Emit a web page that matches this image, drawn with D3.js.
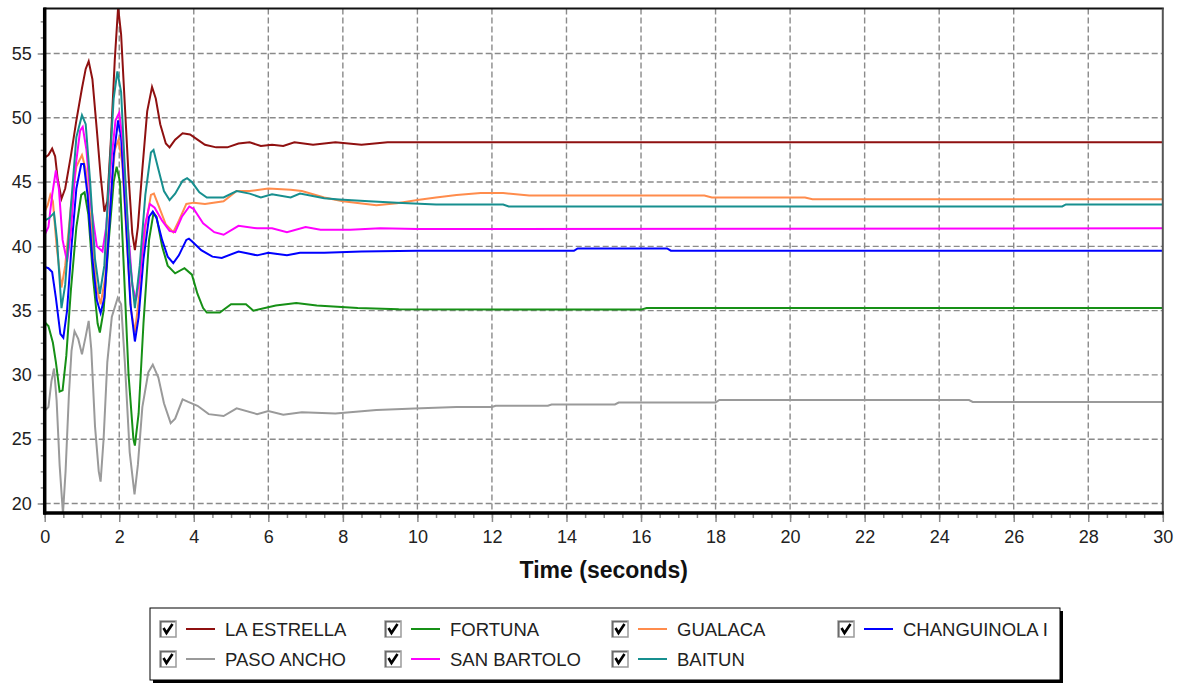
<!DOCTYPE html>
<html><head><meta charset="utf-8">
<script src="https://cdn.jsdelivr.net/npm/d3@7"></script>
<style>body{margin:0;background:#fff;} svg{display:block;font-family:"Liberation Sans",Arial,sans-serif;}</style>
</head><body><svg id="c" width="1180" height="683"></svg>
<script>
// ---- data ----
const xTicks = [0,2,4,6,8,10,12,14,16,18,20,22,24,26,28,30];
const yTicks = [20,25,30,35,40,45,50,55];
const xLabel = "Time (seconds)";
const seriesNames = ["LA ESTRELLA","FORTUNA","GUALACA","CHANGUINOLA I","PASO ANCHO","SAN BARTOLO","BAITUN"];

const laEstrella = [[0,46.9],[0.1,47.1],[0.2,47.6],[0.28,47.0],[0.35,45.2],[0.45,43.7],[0.55,44.5],[0.7,47.0],[0.85,49.8],[1.0,52.3],[1.1,53.8],[1.18,54.4],[1.28,53.0],[1.4,49.0],[1.5,45.5],[1.6,42.7],[1.68,43.5],[1.78,48.5],[1.88,54.5],[1.97,58.6],[2.05,56.5],[2.15,51.0],[2.25,45.5],[2.35,41.0],[2.42,39.7],[2.5,41.5],[2.62,46.0],[2.75,50.5],[2.88,52.4],[2.98,51.5],[3.1,49.5],[3.25,48.0],[3.35,47.7],[3.5,48.3],[3.7,48.8],[3.9,48.7],[4.1,48.3],[4.3,47.9],[4.6,47.7],[4.9,47.7],[5.2,48.0],[5.5,48.1],[5.8,47.8],[6.1,47.9],[6.4,47.8],[6.7,48.1],[7.2,47.9],[7.8,48.1],[8.5,47.9],[9.2,48.1],[10,48.1],[30,48.1]];
const fortuna = [[0,34.1],[0.1,33.8],[0.22,32.5],[0.3,31.0],[0.4,28.7],[0.48,28.8],[0.58,31.5],[0.7,36.5],[0.85,41.5],[0.98,44.0],[1.07,44.2],[1.17,42.5],[1.3,37.5],[1.42,34.0],[1.48,33.3],[1.58,35.0],[1.72,40.5],[1.85,45.0],[1.93,46.2],[2.02,45.0],[2.12,38.5],[2.25,30.0],[2.38,25.0],[2.42,24.5],[2.52,27.0],[2.65,34.0],[2.8,40.5],[2.92,42.6],[3.0,42.3],[3.15,40.0],[3.3,38.5],[3.5,37.9],[3.75,38.3],[3.95,37.8],[4.1,36.3],[4.25,35.2],[4.35,34.85],[4.7,34.85],[5.0,35.5],[5.4,35.5],[5.6,35.0],[6.2,35.4],[6.75,35.6],[7.3,35.4],[8.4,35.2],[9.5,35.1],[16.0,35.08],[16.15,35.2],[30,35.2]];
const gualaca = [[0,42.7],[0.08,43.2],[0.15,44.0],[0.22,43.5],[0.32,40.0],[0.45,36.8],[0.55,38.5],[0.7,43.0],[0.85,46.2],[1.0,47.1],[1.1,46.0],[1.25,41.5],[1.38,37.0],[1.5,35.5],[1.62,37.5],[1.75,43.0],[1.88,47.5],[1.98,48.3],[2.08,46.5],[2.2,40.5],[2.32,35.0],[2.42,33.3],[2.55,36.5],[2.7,41.5],[2.85,44.0],[2.93,44.1],[3.05,43.2],[3.25,41.7],[3.45,41.1],[3.6,42.0],[3.8,43.3],[4.0,43.4],[4.3,43.3],[4.8,43.5],[5.15,44.3],[5.5,44.3],[6.0,44.5],[6.6,44.4],[6.9,44.3],[7.5,43.8],[8.0,43.5],[8.9,43.2],[9.45,43.35],[10.0,43.6],[10.5,43.8],[11.05,44.0],[11.7,44.15],[12.3,44.15],[13.0,43.95],[17.7,43.95],[17.9,43.8],[20.4,43.8],[20.6,43.67],[30,43.67]];
const changuinola = [[0,38.4],[0.1,38.3],[0.2,38.0],[0.3,36.0],[0.42,33.2],[0.5,32.9],[0.6,35.0],[0.72,40.0],[0.85,44.5],[0.98,46.4],[1.05,46.4],[1.15,44.0],[1.28,39.0],[1.4,35.8],[1.5,34.8],[1.6,36.0],[1.72,41.0],[1.85,47.0],[1.97,49.8],[2.05,48.5],[2.18,42.0],[2.3,35.5],[2.42,32.6],[2.52,34.5],[2.65,39.0],[2.8,42.3],[2.9,42.7],[3.0,42.2],[3.15,40.5],[3.3,39.2],[3.45,38.7],[3.6,39.3],[3.8,40.5],[3.87,40.6],[3.95,40.4],[4.2,39.7],[4.5,39.2],[4.75,39.1],[5.2,39.6],[5.7,39.3],[6.0,39.5],[6.5,39.3],[6.85,39.5],[7.5,39.5],[8.5,39.6],[10,39.65],[14.2,39.65],[14.3,39.84],[16.7,39.84],[16.8,39.66],[30,39.66]];
const pasoAncho = [[0,27.2],[0.1,27.5],[0.18,29.5],[0.25,30.5],[0.32,28.0],[0.4,23.0],[0.49,19.2],[0.56,22.5],[0.65,28.5],[0.72,31.9],[0.8,33.4],[0.9,32.8],[1.0,31.6],[1.1,33.0],[1.18,34.2],[1.25,32.0],[1.35,26.0],[1.45,22.5],[1.5,21.7],[1.58,25.0],[1.68,31.0],[1.8,34.5],[1.96,36.0],[2.05,35.5],[2.15,31.0],[2.28,24.0],[2.41,20.7],[2.5,23.0],[2.62,27.5],[2.78,30.2],[2.9,30.8],[3.05,29.8],[3.2,27.8],[3.38,26.25],[3.5,26.6],[3.7,28.1],[3.85,27.9],[4.1,27.6],[4.4,26.95],[4.8,26.8],[5.15,27.4],[5.7,26.95],[6.0,27.2],[6.4,26.9],[6.9,27.1],[7.8,27.0],[8.9,27.27],[10.1,27.4],[11.05,27.5],[12.0,27.5],[12.1,27.6],[13.5,27.6],[13.6,27.7],[15.3,27.7],[15.4,27.85],[18.0,27.85],[18.1,28.05],[24.8,28.05],[24.9,27.9],[30,27.9]];
const sanBartolo = [[0,40.9],[0.1,41.5],[0.2,44.0],[0.3,45.9],[0.38,44.5],[0.48,40.5],[0.6,38.8],[0.7,41.0],[0.82,46.0],[0.95,49.0],[1.02,49.3],[1.12,47.5],[1.25,43.0],[1.4,40.0],[1.55,39.6],[1.65,41.5],[1.78,46.5],[1.9,49.8],[2.0,50.4],[2.1,48.0],[2.22,42.0],[2.35,37.0],[2.45,35.8],[2.55,37.5],[2.68,41.5],[2.82,43.3],[2.95,43.0],[3.15,42.0],[3.35,41.2],[3.5,41.1],[3.68,42.3],[3.88,43.1],[4.0,42.9],[4.25,41.8],[4.55,41.1],[4.8,40.9],[5.2,41.6],[5.7,41.4],[6.1,41.4],[6.5,41.1],[7.0,41.5],[7.4,41.3],[8.2,41.3],[9.0,41.4],[10,41.35],[30,41.4]];
const baitun = [[0,42.0],[0.12,42.2],[0.25,42.6],[0.33,40.5],[0.45,35.2],[0.55,37.0],[0.7,43.0],[0.85,48.5],[1.0,50.2],[1.1,49.5],[1.22,45.0],[1.35,39.0],[1.48,36.3],[1.6,38.5],[1.72,45.0],[1.85,51.5],[1.95,53.6],[2.05,52.0],[2.15,46.0],[2.28,39.0],[2.42,35.2],[2.55,38.5],[2.7,44.0],[2.85,47.3],[2.92,47.5],[3.05,46.0],[3.2,44.3],[3.35,43.6],[3.5,44.1],[3.7,45.1],[3.82,45.3],[3.95,45.0],[4.15,44.2],[4.35,43.8],[4.8,43.8],[5.15,44.3],[5.5,44.1],[5.8,43.8],[6.1,44.05],[6.6,43.8],[6.85,44.1],[7.5,43.75],[7.9,43.65],[8.7,43.5],[9.45,43.4],[10.5,43.25],[12.3,43.25],[12.45,43.1],[27.3,43.1],[27.4,43.26],[30,43.26]];

const seriesData = [laEstrella, fortuna, gualaca, changuinola, pasoAncho, sanBartolo, baitun];
const seriesColors = ["#8f1010","#169016","#ff8c4c","#0000ff","#9a9a9a","#ff00ff","#178f8f"];

// ---- chart ----
const svg = d3.select('#c');
const X0 = 44.7, X1 = 1162.8, YT = 8.5, YB = 513;
const x = d3.scaleLinear().domain([0,30]).range([X0,X1]);
const y = d3.scaleLinear().domain([19.26,58.5]).range([YB,YT]);

svg.append('defs').append('clipPath').attr('id','clip')
  .append('rect').attr('x',X0).attr('y',YT).attr('width',X1-X0).attr('height',YB-YT);

// grid
const grid = svg.append('g').attr('stroke','#8a8a8a').attr('stroke-width',1.4).attr('stroke-dasharray','6,3');
grid.selectAll('line.v').data(xTicks.filter(d=>d>0&&d<30)).join('line')
  .attr('x1',d=>x(d)).attr('x2',d=>x(d)).attr('y1',YT).attr('y2',YB);
grid.selectAll('line.h').data(yTicks).join('line')
  .attr('y1',d=>y(d)).attr('y2',d=>y(d)).attr('x1',X0).attr('x2',X1);

// series
const line = d3.line().x(d=>x(d[0])).y(d=>y(d[1]));
svg.append('g').attr('clip-path','url(#clip)')
  .selectAll('path').data(seriesData).join('path')
  .attr('d',line).attr('fill','none')
  .attr('stroke',(d,i)=>seriesColors[i]).attr('stroke-width',2).attr('stroke-linejoin','miter');

// axes
const minorX = d3.range(0,30.01,0.5);
const minorY = d3.range(20,58.5,1.25);
const axB = svg.append('g').attr('transform',`translate(0,${YB})`);
axB.call(d3.axisBottom(x).tickValues(minorX).tickFormat('').tickSize(5).tickSizeOuter(0));
axB.append('g').call(d3.axisBottom(x).tickValues(xTicks).tickFormat(d3.format('d')).tickSize(9).tickSizeOuter(0).tickPadding(8));
axB.selectAll('.domain').remove();
axB.selectAll('line').attr('stroke','#8a8a8a').attr('stroke-width',1.5);
axB.selectAll('text').attr('font-size',18).attr('fill','#222').attr('font-family','"Liberation Sans",Arial,sans-serif');

const axL = svg.append('g').attr('transform',`translate(${X0},0)`);
axL.call(d3.axisLeft(y).tickValues(minorY).tickFormat('').tickSize(4).tickSizeOuter(0));
axL.append('g').call(d3.axisLeft(y).tickValues(yTicks).tickFormat(d3.format('d')).tickSize(7).tickSizeOuter(0).tickPadding(6));
axL.selectAll('.domain').remove();
axL.selectAll('line').attr('stroke','#8a8a8a').attr('stroke-width',1.5);
axL.selectAll('text').attr('font-size',18).attr('fill','#222').attr('font-family','"Liberation Sans",Arial,sans-serif');

// frame
svg.append('line').attr('x1',X0-1).attr('x2',X1+1).attr('y1',YT).attr('y2',YT).attr('stroke','#111').attr('stroke-width',2);
svg.append('line').attr('x1',X1).attr('x2',X1).attr('y1',YT).attr('y2',YB).attr('stroke','#555').attr('stroke-width',2);
svg.append('line').attr('x1',X0).attr('x2',X0).attr('y1',YT-1).attr('y2',YB+1.5).attr('stroke','#000').attr('stroke-width',3.5);
svg.append('line').attr('x1',X0-1.5).attr('x2',X1+1).attr('y1',YB).attr('y2',YB).attr('stroke','#000').attr('stroke-width',3.5);

// x title
svg.append('text').attr('x',(X0+X1)/2).attr('y',578).attr('text-anchor','middle')
  .attr('font-size',23).attr('font-weight','bold').attr('fill','#111').text(xLabel);

// legend
const LX=150, LY=608, LW=910, LH=72;
svg.append('rect').attr('x',LX+3).attr('y',LY+3).attr('width',LW).attr('height',LH).attr('fill','#000');
svg.append('rect').attr('x',LX).attr('y',LY).attr('width',LW).attr('height',LH).attr('fill','#fff').attr('stroke','#000').attr('stroke-width',1);
const colX=[160,385,612,838], rowY=[629,659];
const items = svg.append('g').selectAll('g').data(seriesNames).join('g')
  .attr('transform',(d,i)=>`translate(${colX[i%4]},${rowY[Math.floor(i/4)]})`);
items.append('rect').attr('x',0).attr('y',-8).attr('width',16).attr('height',16).attr('fill','#fff').attr('stroke','#9a9a9a').attr('stroke-width',1.5);
items.append('path').attr('d','M0.8,8 V-7.2 H15.2').attr('fill','none').attr('stroke','#6a6a6a').attr('stroke-width',1.6);
items.append('path').attr('d','M3.5,-1 L6.5,4 L12.5,-5').attr('fill','none').attr('stroke','#000').attr('stroke-width',2.6);
items.append('line').attr('x1',26).attr('x2',55).attr('y1',0).attr('y2',0).attr('stroke',(d,i)=>seriesColors[i]).attr('stroke-width',2);
items.append('text').attr('x',65).attr('y',7).attr('font-size',18.5).attr('fill','#222').text(d=>d);
</script></body></html>
